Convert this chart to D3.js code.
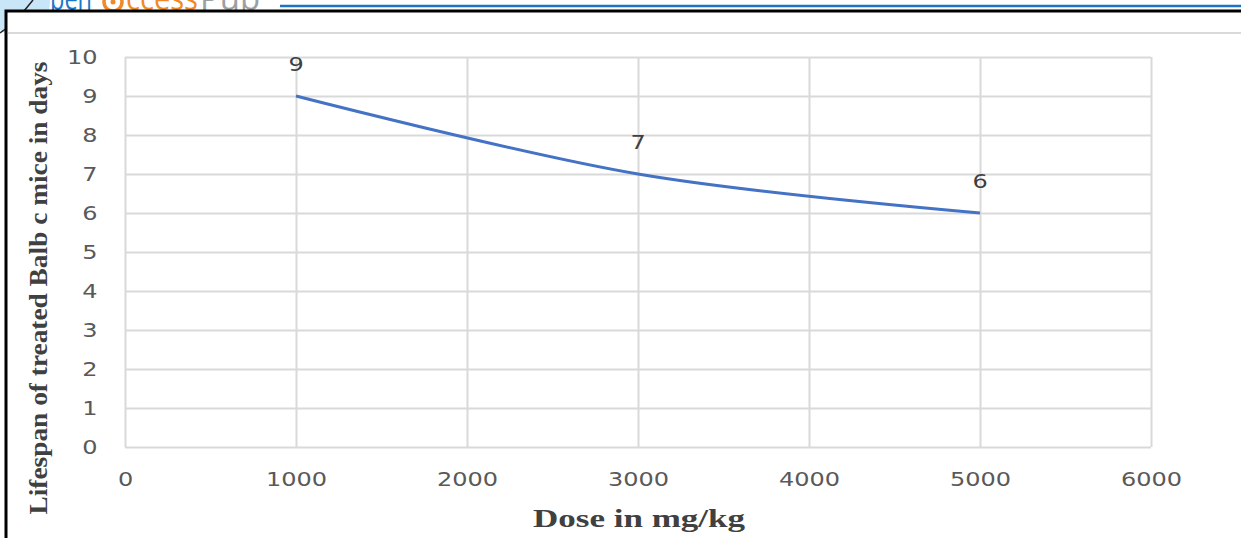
<!DOCTYPE html>
<html>
<head>
<meta charset="utf-8">
<script src="https://cdn.jsdelivr.net/npm/d3@7"></script>
<style>
  html, body { margin: 0; padding: 0; background: #fff; }
  svg { display: block; }
</style>
</head>
<body>
<div id="chart"></div>
<script>
const width = 1241;
const height = 538;

// data
const doses = [1000, 3000, 5000];
const lifespans = [9, 7, 6];
const xTicks = [0, 1000, 2000, 3000, 4000, 5000, 6000];
const yTicks = [0, 1, 2, 3, 4, 5, 6, 7, 8, 9, 10];
const xTitle = "Dose in mg/kg";
const yTitle = "Lifespan of treated Balb c mice in days";

const plot = { left: 125, right: 1151, top: 57, bottom: 447 };
const grid = "#d9d9d9";
const stretch = "scale(1.2,1)";

const svg = d3.select("#chart")
  .append("svg")
  .attr("width", width)
  .attr("height", height);

// publisher logo, mostly cut off at the top
svg.append("ellipse")
  .attr("cx", 18).attr("cy", 2)
  .attr("rx", 32).attr("ry", 34)
  .attr("fill", "#c9e6f8");
svg.append("path")
  .attr("d", "M33,0 L24,11 M0,33 L7,28")
  .attr("stroke", "#222").attr("stroke-width", 1.5).attr("fill", "none");

const logo = svg.append("text")
  .attr("y", 10)
  .style("font-family", "'Open Sans', sans-serif")
  .style("font-size", "32px");
logo.append("tspan").attr("x", 50).attr("fill", "#1a78c8")
  .attr("textLength", 42).attr("lengthAdjust", "spacingAndGlyphs").text("pen");
logo.append("tspan").attr("x", 126).attr("fill", "#ef8a2a")
  .attr("textLength", 72).attr("lengthAdjust", "spacingAndGlyphs").text("ccess");
logo.append("tspan").attr("x", 200).attr("fill", "#9aa0a4")
  .attr("textLength", 60).attr("lengthAdjust", "spacingAndGlyphs").text("Pub");
svg.append("circle").attr("cx", 113).attr("cy", 2).attr("r", 9)
  .attr("fill", "none").attr("stroke", "#ef8a2a").attr("stroke-width", 3.5);
svg.append("circle").attr("cx", 113).attr("cy", 2).attr("r", 2.5).attr("fill", "#ef8a2a");

svg.append("line")
  .attr("x1", 280).attr("x2", width).attr("y1", 6).attr("y2", 6)
  .attr("stroke", "#1a73c8").attr("stroke-width", 2.5);

// figure frame
svg.append("rect")
  .attr("x", 6).attr("y", 11).attr("width", width + 10).attr("height", height)
  .attr("fill", "#fff").attr("stroke", "#000").attr("stroke-width", 3);
svg.append("line")
  .attr("x1", 8).attr("x2", width).attr("y1", 33).attr("y2", 33)
  .attr("stroke", grid).attr("stroke-width", 2);

const xScale = d3.scaleLinear()
  .domain([0, 6000])
  .range([plot.left, plot.right]);

const yScale = d3.scaleLinear()
  .domain([0, 10])
  .range([plot.bottom, plot.top]);

// gridlines
const xAxis = d3.axisBottom(xScale)
  .tickValues(xTicks)
  .tickSize(-(plot.bottom - plot.top))
  .tickFormat(d3.format("d"));

const yAxis = d3.axisLeft(yScale)
  .tickValues(yTicks)
  .tickSize(-(plot.right - plot.left))
  .tickPadding(23);

function styleAxis(g) {
  g.select(".domain").remove();
  g.selectAll(".tick line").attr("stroke", grid).attr("stroke-width", 2);
  g.selectAll(".tick text")
    .attr("fill", "#595959")
    .style("font-family", "'DejaVu Sans', sans-serif")
    .style("font-size", "20px")
    .attr("transform", stretch);
}

svg.append("g")
  .attr("id", "y-axis")
  .attr("transform", `translate(${plot.left}, 0)`)
  .call(yAxis)
  .call(styleAxis);

svg.append("g")
  .attr("id", "x-axis")
  .attr("transform", `translate(0, ${plot.bottom})`)
  .call(xAxis)
  .call(styleAxis)
  .selectAll(".tick text").attr("dy", "0.32em").attr("y", 33);

// series
const points = doses.map((d, i) => ({ dose: d, life: lifespans[i] }));

const line = d3.line()
  .x(d => xScale(d.dose))
  .y(d => yScale(d.life))
  .curve(d3.curveCardinal.tension(0));

svg.append("path")
  .datum(points)
  .attr("fill", "none")
  .attr("stroke", "#4472c4")
  .attr("stroke-width", 3)
  .attr("d", line);

svg.selectAll(".label")
  .data(points)
  .enter()
  .append("text")
  .attr("class", "label")
  .attr("transform", d => `translate(${xScale(d.dose)}, ${yScale(d.life) - 32}) ${stretch}`)
  .attr("text-anchor", "middle")
  .attr("dy", "0.35em")
  .attr("fill", "#404040")
  .style("font-family", "'DejaVu Sans', sans-serif")
  .style("font-size", "20px")
  .text(d => d.life);

// axis titles
svg.append("text")
  .attr("x", 639).attr("y", 527)
  .attr("text-anchor", "middle")
  .attr("textLength", 212).attr("lengthAdjust", "spacingAndGlyphs")
  .attr("fill", "#404040")
  .style("font-family", "'Liberation Serif', serif")
  .style("font-weight", "bold")
  .style("font-size", "25px")
  .text(xTitle);

svg.append("text")
  .attr("transform", "translate(47, 288) rotate(-90)")
  .attr("text-anchor", "middle")
  .attr("textLength", 453).attr("lengthAdjust", "spacingAndGlyphs")
  .attr("fill", "#404040")
  .style("font-family", "'Liberation Serif', serif")
  .style("font-weight", "bold")
  .style("font-size", "25px")
  .text(yTitle);
</script>
</body>
</html>
